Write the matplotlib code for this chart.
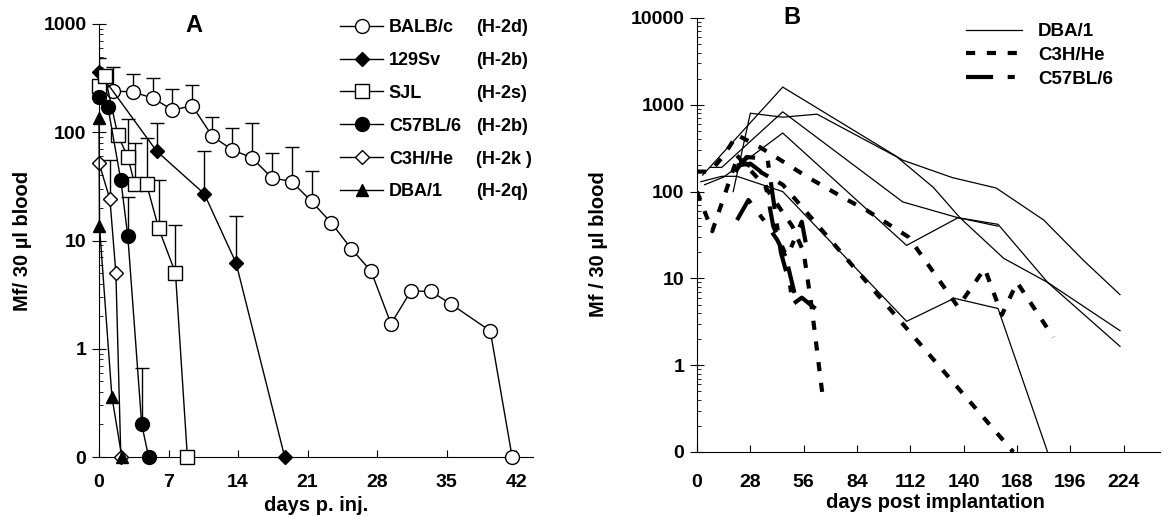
import numpy as np
import matplotlib.pyplot as plt
from matplotlib.ticker import LogLocator, NullFormatter

plt.rcParams['font.family'] = ['Liberation Sans', 'DejaVu Sans']
plt.rcParams['font.weight'] = 'bold'

# ---------------- panel A : Mf after injection (0 is drawn at the 0.1 level)
balb_days = [1.4, 3.4, 5.4, 7.4, 9.4, 11.4, 13.4, 15.4, 17.4, 19.4, 21.4, 23.4,
             25.4, 27.4, 29.4, 31.4, 33.4, 35.4, 39.4, 41.6]
balb_mf = [240, 236, 207, 161, 175, 92, 69, 58, 38, 35, 23, 14.5,
           8.4, 5.2, 1.7, 3.4, 3.4, 2.6, 1.46, 0]
balb_err = [400, 345, 318, 251, 274, 139, 110, 122, 65, 73, 44, np.nan,
            np.nan, np.nan, np.nan, np.nan, np.nan, np.nan, np.nan, np.nan]

sv_days = [0, 5.8, 10.6, 13.8, 18.7]
sv_mf = [360, 67, 27, 6.2, 0]
sv_err = [490, 122, 67, 17, np.nan]

sjl_days = [0, 0.6, 1.9, 2.9, 3.6, 4.8, 6.0, 7.7, 8.9]
sjl_mf = [270, 330, 94, 59, 33, 33, 13, 5.0, 0]
sjl_err = [np.nan, np.nan, np.nan, 133, 80, 89, 36, 14, np.nan]

b6_days = [0, 0.9, 2.2, 2.9, 4.3, 5.0]
b6_mf = [213, 171, 36, 11, 0.2, 0]
b6_err = [np.nan, np.nan, np.nan, 25, 0.66, np.nan]

c3h_days = [0, 1.1, 1.7, 2.2]
c3h_mf = [52, 24, 5.0, 0]
c3h_err = [np.nan, 55, np.nan, np.nan]

dba_days = [0, 0.05, 1.3, 2.3]
dba_mf = [135, 13.5, 0.36, 0]
dba_err = [np.nan, np.nan, np.nan, np.nan]

strains = ['BALB/c', '129Sv', 'SJL', 'C57BL/6', 'C3H/He', 'DBA/1']
haplotypes = ['(H-2d)', '(H-2b)', '(H-2s)', '(H-2b)', '(H-2k )', '(H-2q)']

# ---------------- panel B : individual mice after implantation
dba_lines = [
    ([3, 45, 108, 134, 157, 182, 203, 222], [155, 1600, 230, 145, 110, 47, 16, 6.5]),
    ([7, 13, 45, 108, 137, 158, 184, 222], [190, 190, 830, 76, 50, 42, 9, 2.5]),
    ([4, 14, 45, 110, 137, 158], [120, 147, 473, 24, 50, 40]),
    ([2, 13, 21, 45, 110, 135, 158, 184], [130, 150, 150, 100, 3.2, 5.9, 4.5, 0]),
    ([19, 28, 45, 63, 105, 124, 138, 161, 184, 222], [100, 800, 720, 780, 250, 112, 50, 17, 9, 1.65]),
]
c3h_lines = [
    ([0, 7, 14, 21, 33, 44, 58, 79, 89, 111, 137, 151, 160, 168, 187],
     [170, 170, 260, 450, 325, 230, 147, 80, 61, 30, 4.7, 13, 3.8, 9, 2.1]),
    ([0, 8, 21, 45, 166], [100, 35, 240, 120, 0]),
    ([21, 35, 50, 56, 60, 66], [260, 120, 40, 20, 5, 0.43]),
]
b6_lines = [
    ([20, 26, 37, 44, 49, 50, 55, 65], [170, 250, 240, 20, 8, 5, 6, 4]),
    ([21, 27, 35, 42, 47, 55, 58], [47, 80, 47, 28, 17, 45, 20]),
    ([21, 28, 35, 40, 46, 51, 52], [200, 210, 160, 40, 20, 7, 6]),
]


def zero_floor(v):
    v = np.asarray(v, float)
    return np.where(v == 0, 0.1, v)


W, H = 1163, 516
fig = plt.figure(figsize=(W / 100, H / 100), dpi=100)

# ---------------- panel A
axA = fig.add_axes([99 / W, 1 - 457 / H, 434 / W, 433 / H])
styles = [
    dict(marker='o', mfc='white', ms=10),
    dict(marker='D', mfc='black', ms=7),
    dict(marker='s', mfc='white', ms=10),
    dict(marker='o', mfc='black', ms=10),
    dict(marker='D', mfc='white', ms=7),
    dict(marker='^', mfc='black', ms=8.5),
]
seriesA = [(balb_days, balb_mf, balb_err), (sv_days, sv_mf, sv_err),
           (sjl_days, sjl_mf, sjl_err), (b6_days, b6_mf, b6_err),
           (c3h_days, c3h_mf, c3h_err), (dba_days, dba_mf, dba_err)]

for (d, v, e), st, name in zip(seriesA, styles, strains):
    d = np.asarray(d, float)
    v = zero_floor(v)
    e = np.asarray(e, float)
    ok = ~np.isnan(e)
    if ok.any():
        axA.errorbar(d[ok], v[ok], yerr=[np.zeros(ok.sum()), e[ok] - v[ok]],
                     fmt='none', ecolor='black', elinewidth=1, capsize=5,
                     capthick=1, zorder=2)
    axA.plot(d, v, color='black', lw=1, mec='black', mew=1, label=name,
             clip_on=False, zorder=3, **st)

axA.set_yscale('log')
axA.set_ylim(0.1, 1000)
axA.set_xlim(0, 43.7)
axA.set_yticks([0.1, 1, 10, 100, 1000])
axA.set_yticklabels(['0', '1', '10', '100', '1000'])
axA.yaxis.set_minor_locator(LogLocator(base=10, subs=np.arange(2, 10)))
axA.yaxis.set_minor_formatter(NullFormatter())
axA.set_xticks(range(0, 43, 7))
axA.spines[['top', 'right']].set_visible(False)
axA.tick_params(axis='y', which='major', direction='inout', length=10, labelsize=14, pad=4)
axA.tick_params(axis='y', which='minor', direction='in', length=3)
axA.tick_params(axis='x', direction='in', length=5, labelsize=14, pad=12)
axA.set_ylabel('Mf/ 30 µl blood', fontsize=14.5, fontweight='bold')
axA.yaxis.set_label_coords(-0.154, 0.5)
axA.set_xlabel('days p. inj.', fontsize=14.5, fontweight='bold')
axA.xaxis.set_label_coords(0.5, -0.09)

legA = axA.legend(loc='upper left', bbox_to_anchor=(340 / W, 1 - 19 / H),
                  bbox_transform=fig.transFigure, frameon=False, fontsize=13,
                  handlelength=2.4, handletextpad=0.3, labelspacing=0.88,
                  borderpad=0, borderaxespad=0)
fig.text(194 / W, 1 - 26 / H, 'A', ha='center', va='center', fontsize=17, fontweight='bold')

# ---------------- panel B
axB = fig.add_axes([697 / W, 1 - 452 / H, 463 / W, 434 / H])
c3h_dash = (2.2, 2.8)
b6_dash = (6.5, 3.5, 1.7, 3.5)
for i, (d, v) in enumerate(dba_lines):
    axB.plot(d, zero_floor(v), color='black', lw=0.9,
             label='DBA/1' if i == 0 else None)
for i, (d, v) in enumerate(c3h_lines):
    axB.plot(d, zero_floor(v), color='black', lw=3, dashes=c3h_dash,
             label='C3H/He' if i == 0 else None)
for i, (d, v) in enumerate(b6_lines):
    axB.plot(d, zero_floor(v), color='black', lw=3, dashes=b6_dash,
             label='C57BL/6' if i == 0 else None)

axB.set_yscale('log')
axB.set_ylim(0.1, 10000)
axB.set_xlim(0, 243)
axB.set_yticks([0.1, 1, 10, 100, 1000, 10000])
axB.set_yticklabels(['0', '1', '10', '100', '1000', '10000'])
axB.yaxis.set_minor_locator(LogLocator(base=10, subs=np.arange(2, 10)))
axB.yaxis.set_minor_formatter(NullFormatter())
axB.set_xticks(range(0, 225, 28))
axB.spines[['top', 'right']].set_visible(False)
axB.tick_params(axis='y', which='major', direction='inout', length=10, labelsize=14, pad=4)
axB.tick_params(axis='y', which='minor', direction='in', length=3)
axB.tick_params(axis='x', direction='in', length=5, labelsize=14, pad=16)
axB.set_ylabel('Mf / 30 µl blood', fontsize=14.5, fontweight='bold')
axB.yaxis.set_label_coords(-0.192, 0.48)
axB.set_xlabel('days post implantation', fontsize=14.5, fontweight='bold')
axB.xaxis.set_label_coords(0.516, -0.095)
axB.legend(loc='upper left', bbox_to_anchor=(966 / W, 1 - 23 / H),
           bbox_transform=fig.transFigure, frameon=False, fontsize=13.5,
           handlelength=3.0, handletextpad=0.85, labelspacing=0.35,
           borderpad=0, borderaxespad=0)
fig.text(792 / W, 1 - 18 / H, 'B', ha='center', va='center', fontsize=17, fontweight='bold')

# haplotype column next to the legend of panel A
fig.canvas.draw()
for t, hap in zip(legA.get_texts(), haplotypes):
    bb = t.get_window_extent()
    fig.text(476 / W, (bb.y0 + bb.y1) / 2 / fig.bbox.height, hap,
             va='center', fontsize=13, fontweight='bold')

fig.savefig('out.png', dpi=100)
